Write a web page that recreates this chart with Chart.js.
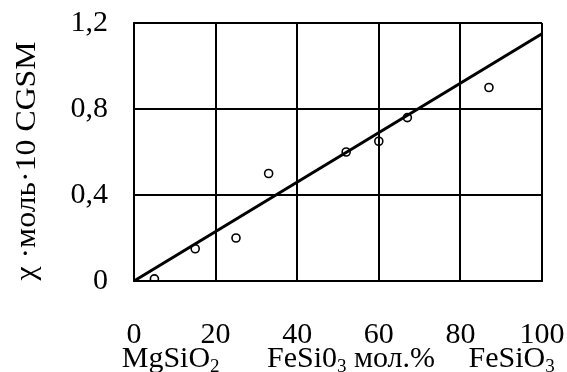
<!DOCTYPE html>
<html>
<head>
<meta charset="utf-8">
<script src="https://cdn.jsdelivr.net/npm/chart.js@4/dist/chart.umd.min.js"></script>
<style>
  html, body { margin: 0; padding: 0; background: #fff; }
  #wrap { width: 567px; height: 372px; }
</style>
</head>
<body>
<div id="wrap"><canvas id="chart" width="567" height="372"></canvas></div>
<script>
// measured points (FeSiO3 mol.%, susceptibility)
const molPercent = [5, 15, 25, 33, 52, 60, 67, 87];
const chiValues = [0.01, 0.15, 0.2, 0.5, 0.6, 0.65, 0.76, 0.9];
// straight fit line ends
const fitX = [0, 100];
const fitY = [0, 1.15];
const xTicks = [0, 20, 40, 60, 80, 100];
const yTicks = [0, 0.4, 0.8, 1.2];
const yTickLabels = ['0', '0,4', '0,8', '1,2'];
const yTitle = 'χ ·моль·10 CGSM';
// second row under the x numbers: [main text, subscript, x value]
const xNames = [['MgSiO', '2', -3], ['FeSi0', '3', 32.6], ['FeSiO', '3', 82]];
const xUnit = ' мол.%';

const FONT = "'Liberation Serif', 'Times New Roman', serif";

const extraText = {
  id: 'extraText',
  afterDraw(chart) {
    const ctx = chart.ctx;
    const xs = chart.scales.x;
    ctx.save();
    ctx.fillStyle = '#000';
    ctx.textBaseline = 'alphabetic';
    ctx.textAlign = 'left';

    // names under the axis
    xNames.forEach(function(n, i) {
      let px = xs.getPixelForValue(n[2]);
      const base = 367;
      ctx.font = '30px ' + FONT;
      ctx.fillText(n[0], px, base);
      px += ctx.measureText(n[0]).width;
      ctx.font = '19px ' + FONT;
      ctx.fillText(n[1], px, base + 5);
      px += ctx.measureText(n[1]).width;
      if (i === 1) {
        ctx.font = '30px ' + FONT;
        ctx.fillText(xUnit, px, base);
      }
    });

    // rotated y title
    ctx.font = '30px ' + FONT;
    ctx.translate(35, 161);
    ctx.rotate(-Math.PI / 2);
    ctx.scale(1.06, 1);
    ctx.textAlign = 'center';
    ctx.fillText(yTitle, 0, 0);
    ctx.restore();
  }
};

new Chart(document.getElementById('chart'), {
  type: 'scatter',
  data: {
    datasets: [{
      label: 'fit',
      type: 'line',
      data: fitX.map((x, i) => ({ x: x, y: fitY[i] })),
      borderColor: '#000',
      borderWidth: 3,
      pointRadius: 0,
      fill: false,
      clip: false,
      order: 0
    }, {
      label: 'points',
      data: molPercent.map((x, i) => ({ x: x, y: chiValues[i] })),
      borderColor: '#000',
      backgroundColor: 'rgba(0,0,0,0)',
      borderWidth: 1.6,
      pointRadius: 4,
      order: 1
    }]
  },
  options: {
    responsive: false,
    animation: false,
    layout: { padding: { top: 23, right: 25, left: 0, bottom: 0 } },
    plugins: {
      legend: { display: false },
      tooltip: { enabled: false }
    },
    scales: {
      x: {
        type: 'linear',
        min: 0,
        max: 100,
        afterBuildTicks: function(scale) {
          scale.ticks = xTicks.map(v => ({ value: v }));
        },
        afterFit: function(scale) {
          scale.height = 91;
          scale.paddingLeft = 0;
          scale.paddingRight = 0;
        },
        grid: { color: '#000', lineWidth: 2, drawTicks: false },
        border: { color: '#000', width: 2 },
        ticks: {
          padding: 36,
          color: '#000',
          font: { family: FONT, size: 30 },
          maxRotation: 0,
          callback: v => String(v)
        }
      },
      y: {
        min: 0,
        max: 1.2,
        afterBuildTicks: function(scale) {
          scale.ticks = yTicks.map(v => ({ value: v }));
        },
        afterFit: function(scale) {
          scale.width = 134;
          scale.paddingTop = 0;
          scale.paddingBottom = 0;
        },
        grid: { color: '#000', lineWidth: 2, drawTicks: false },
        border: { color: '#000', width: 2 },
        ticks: {
          padding: 26,
          color: '#000',
          font: { family: FONT, size: 30 },
          callback: function(v) {
            const i = yTicks.indexOf(v);
            return i >= 0 ? yTickLabels[i] : '';
          }
        }
      }
    }
  },
  plugins: [extraText]
});
</script>
</body>
</html>
